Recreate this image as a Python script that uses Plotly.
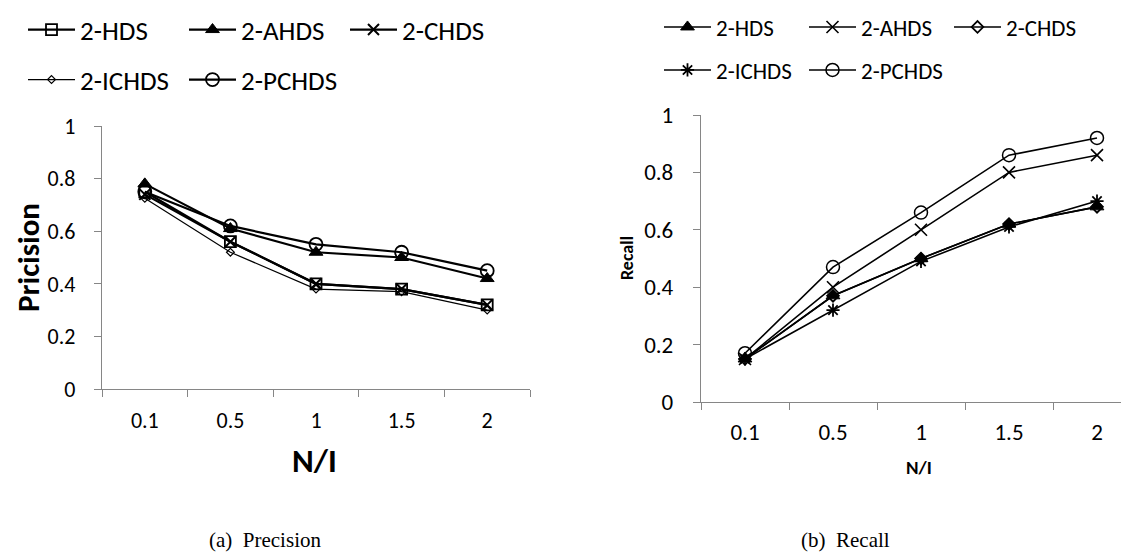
import plotly.graph_objects as go

# ---------------- data ----------------
categories = ["0.1", "0.5", "1", "1.5", "2"]

series_names = ["2-HDS", "2-AHDS", "2-CHDS", "2-ICHDS", "2-PCHDS"]

precision_hds = [0.75, 0.56, 0.40, 0.38, 0.32]
precision_ahds = [0.78, 0.61, 0.52, 0.50, 0.42]
precision_chds = [0.74, 0.56, 0.40, 0.38, 0.32]
precision_ichds = [0.725, 0.52, 0.38, 0.37, 0.30]
precision_pchds = [0.75, 0.62, 0.55, 0.52, 0.45]

recall_hds = [0.15, 0.37, 0.50, 0.62, 0.68]
recall_ahds = [0.15, 0.40, 0.60, 0.80, 0.86]
recall_chds = [0.15, 0.37, 0.50, 0.62, 0.68]
recall_ichds = [0.15, 0.32, 0.49, 0.61, 0.70]
recall_pchds = [0.17, 0.47, 0.66, 0.86, 0.92]

y_ticks = [0, 0.2, 0.4, 0.6, 0.8, 1]

# ---------------- styling ----------------
W, H = 1129, 556
OFF = 8  # page body margin offset
FONT = "Carlito, Calibri, Lato, sans-serif"
AXC = "#868686"

def px_x(p):
    return (p - OFF) / W

def px_y(p):
    return 1 - (p - OFF) / H

fig = go.Figure()

left_styles = [
    dict(symbol="square-open", size=11, width=2.2, mw=1.8),
    dict(symbol="triangle-up", size=12, width=2.2, mw=1),
    dict(symbol="x-thin-open", size=11, width=2.2, mw=2),
    dict(symbol="diamond-open", size=6, width=1.2, mw=1.2),
    dict(symbol="circle-open", size=13, width=2.2, mw=1.8),
]
right_styles = [
    dict(symbol="triangle-up", size=12, width=1.6, mw=1),
    dict(symbol="x-thin-open", size=12, width=1.6, mw=1.6),
    dict(symbol="diamond-open", size=9, width=1.6, mw=1.8),
    dict(symbol="asterisk-open", size=11, width=1.6, mw=1.8),
    dict(symbol="circle-open", size=13, width=1.6, mw=1.5),
]

left_vals = [precision_hds, precision_ahds, precision_chds, precision_ichds, precision_pchds]
right_vals = [recall_hds, recall_ahds, recall_chds, recall_ichds, recall_pchds]

left_legends = ["legend", "legend", "legend", "legend2", "legend2"]
right_legends = ["legend3", "legend3", "legend3", "legend4", "legend4"]

for name, vals, st, lg in zip(series_names, left_vals, left_styles, left_legends):
    fig.add_trace(go.Scatter(
        x=categories, y=vals, name=name, mode="lines+markers",
        line=dict(color="black", width=st["width"]),
        marker=dict(symbol=st["symbol"], size=st["size"], color="black",
                    line=dict(color="black", width=st["mw"])),
        xaxis="x", yaxis="y", legend=lg, cliponaxis=False,
    ))

for name, vals, st, lg in zip(series_names, right_vals, right_styles, right_legends):
    fig.add_trace(go.Scatter(
        x=categories, y=vals, name=name, mode="lines+markers",
        line=dict(color="black", width=st["width"]),
        marker=dict(symbol=st["symbol"], size=st["size"], color="black",
                    line=dict(color="black", width=st["mw"])),
        xaxis="x2", yaxis="y2", legend=lg, cliponaxis=False,
    ))

axis_common = dict(showline=True, linecolor=AXC, linewidth=1.3, showgrid=False,
                   zeroline=False, ticks="outside", ticklen=7, tickcolor=AXC,
                   tickwidth=1.3, automargin=False)

fig.update_layout(
    template=None,
    width=W, height=H, autosize=False,
    margin=dict(l=0, r=0, t=0, b=0, autoexpand=False),
    paper_bgcolor="white", plot_bgcolor="white",
    xaxis=dict(domain=[px_x(102), px_x(530)], type="category",
               range=[-0.5, 4.5], tickson="boundaries", anchor="y",
               ticklabelstandoff=11,
               tickfont=dict(family=FONT, size=22, color="black"), **axis_common),
    yaxis=dict(domain=[px_y(389), px_y(126)], range=[0, 1], tickvals=y_ticks,
               anchor="x", ticklabelstandoff=14,
               tickfont=dict(family=FONT, size=22, color="black"), **axis_common),
    xaxis2=dict(domain=[px_x(701), 1.0], type="category",
                range=[-0.5, -0.5 + (W + OFF - 701) / 88.0], tickson="boundaries",
                anchor="y2", ticklabelstandoff=9,
                tickfont=dict(family=FONT, size=23, color="black"), **axis_common),
    yaxis2=dict(domain=[px_y(402), px_y(115)], range=[0, 1], tickvals=y_ticks,
                anchor="x2", ticklabelstandoff=15,
                tickfont=dict(family=FONT, size=23, color="black"), **axis_common),
    showlegend=True,
)

leg_common = dict(orientation="h", xanchor="left", yanchor="middle",
                  bgcolor="rgba(0,0,0,0)", entrywidthmode="pixels",
                  traceorder="normal", itemwidth=47)

fig.update_layout(
    legend=dict(x=px_x(23), y=px_y(30), entrywidth=99,
                font=dict(family=FONT, size=27, color="black"), **leg_common),
    legend2=dict(x=px_x(23), y=px_y(80), entrywidth=99,
                 font=dict(family=FONT, size=27, color="black"), **leg_common),
    legend3=dict(x=px_x(659), y=px_y(27), entrywidth=83,
                 font=dict(family=FONT, size=23, color="black"), **leg_common),
    legend4=dict(x=px_x(659), y=px_y(70), entrywidth=83,
                 font=dict(family=FONT, size=23, color="black"), **leg_common),
)

annotations = [
    dict(text="<b>Pricision</b>", x=px_x(28), y=px_y(258), textangle=-90,
         font=dict(family=FONT, size=31, color="black")),
    dict(text="<b>N/I</b>", x=px_x(314), y=px_y(461),
         font=dict(family=FONT, size=33, color="black")),
    dict(text="<b>Recall</b>", x=px_x(627), y=px_y(258), textangle=-90,
         font=dict(family=FONT, size=18, color="black")),
    dict(text="<b>N/I</b>", x=px_x(919), y=px_y(467),
         font=dict(family=FONT, size=19, color="black")),
    dict(text="(a)&nbsp;&nbsp;Precision", x=px_x(265), y=px_y(540),
         font=dict(family="Liberation Serif, serif", size=21, color="black")),
    dict(text="(b)&nbsp;&nbsp;Recall", x=px_x(845), y=px_y(540),
         font=dict(family="Liberation Serif, serif", size=21, color="black")),
]
for a in annotations:
    a.update(xref="paper", yref="paper", showarrow=False, xanchor="center", yanchor="middle")
fig.update_layout(annotations=annotations)

fig.write_html("out.html")
